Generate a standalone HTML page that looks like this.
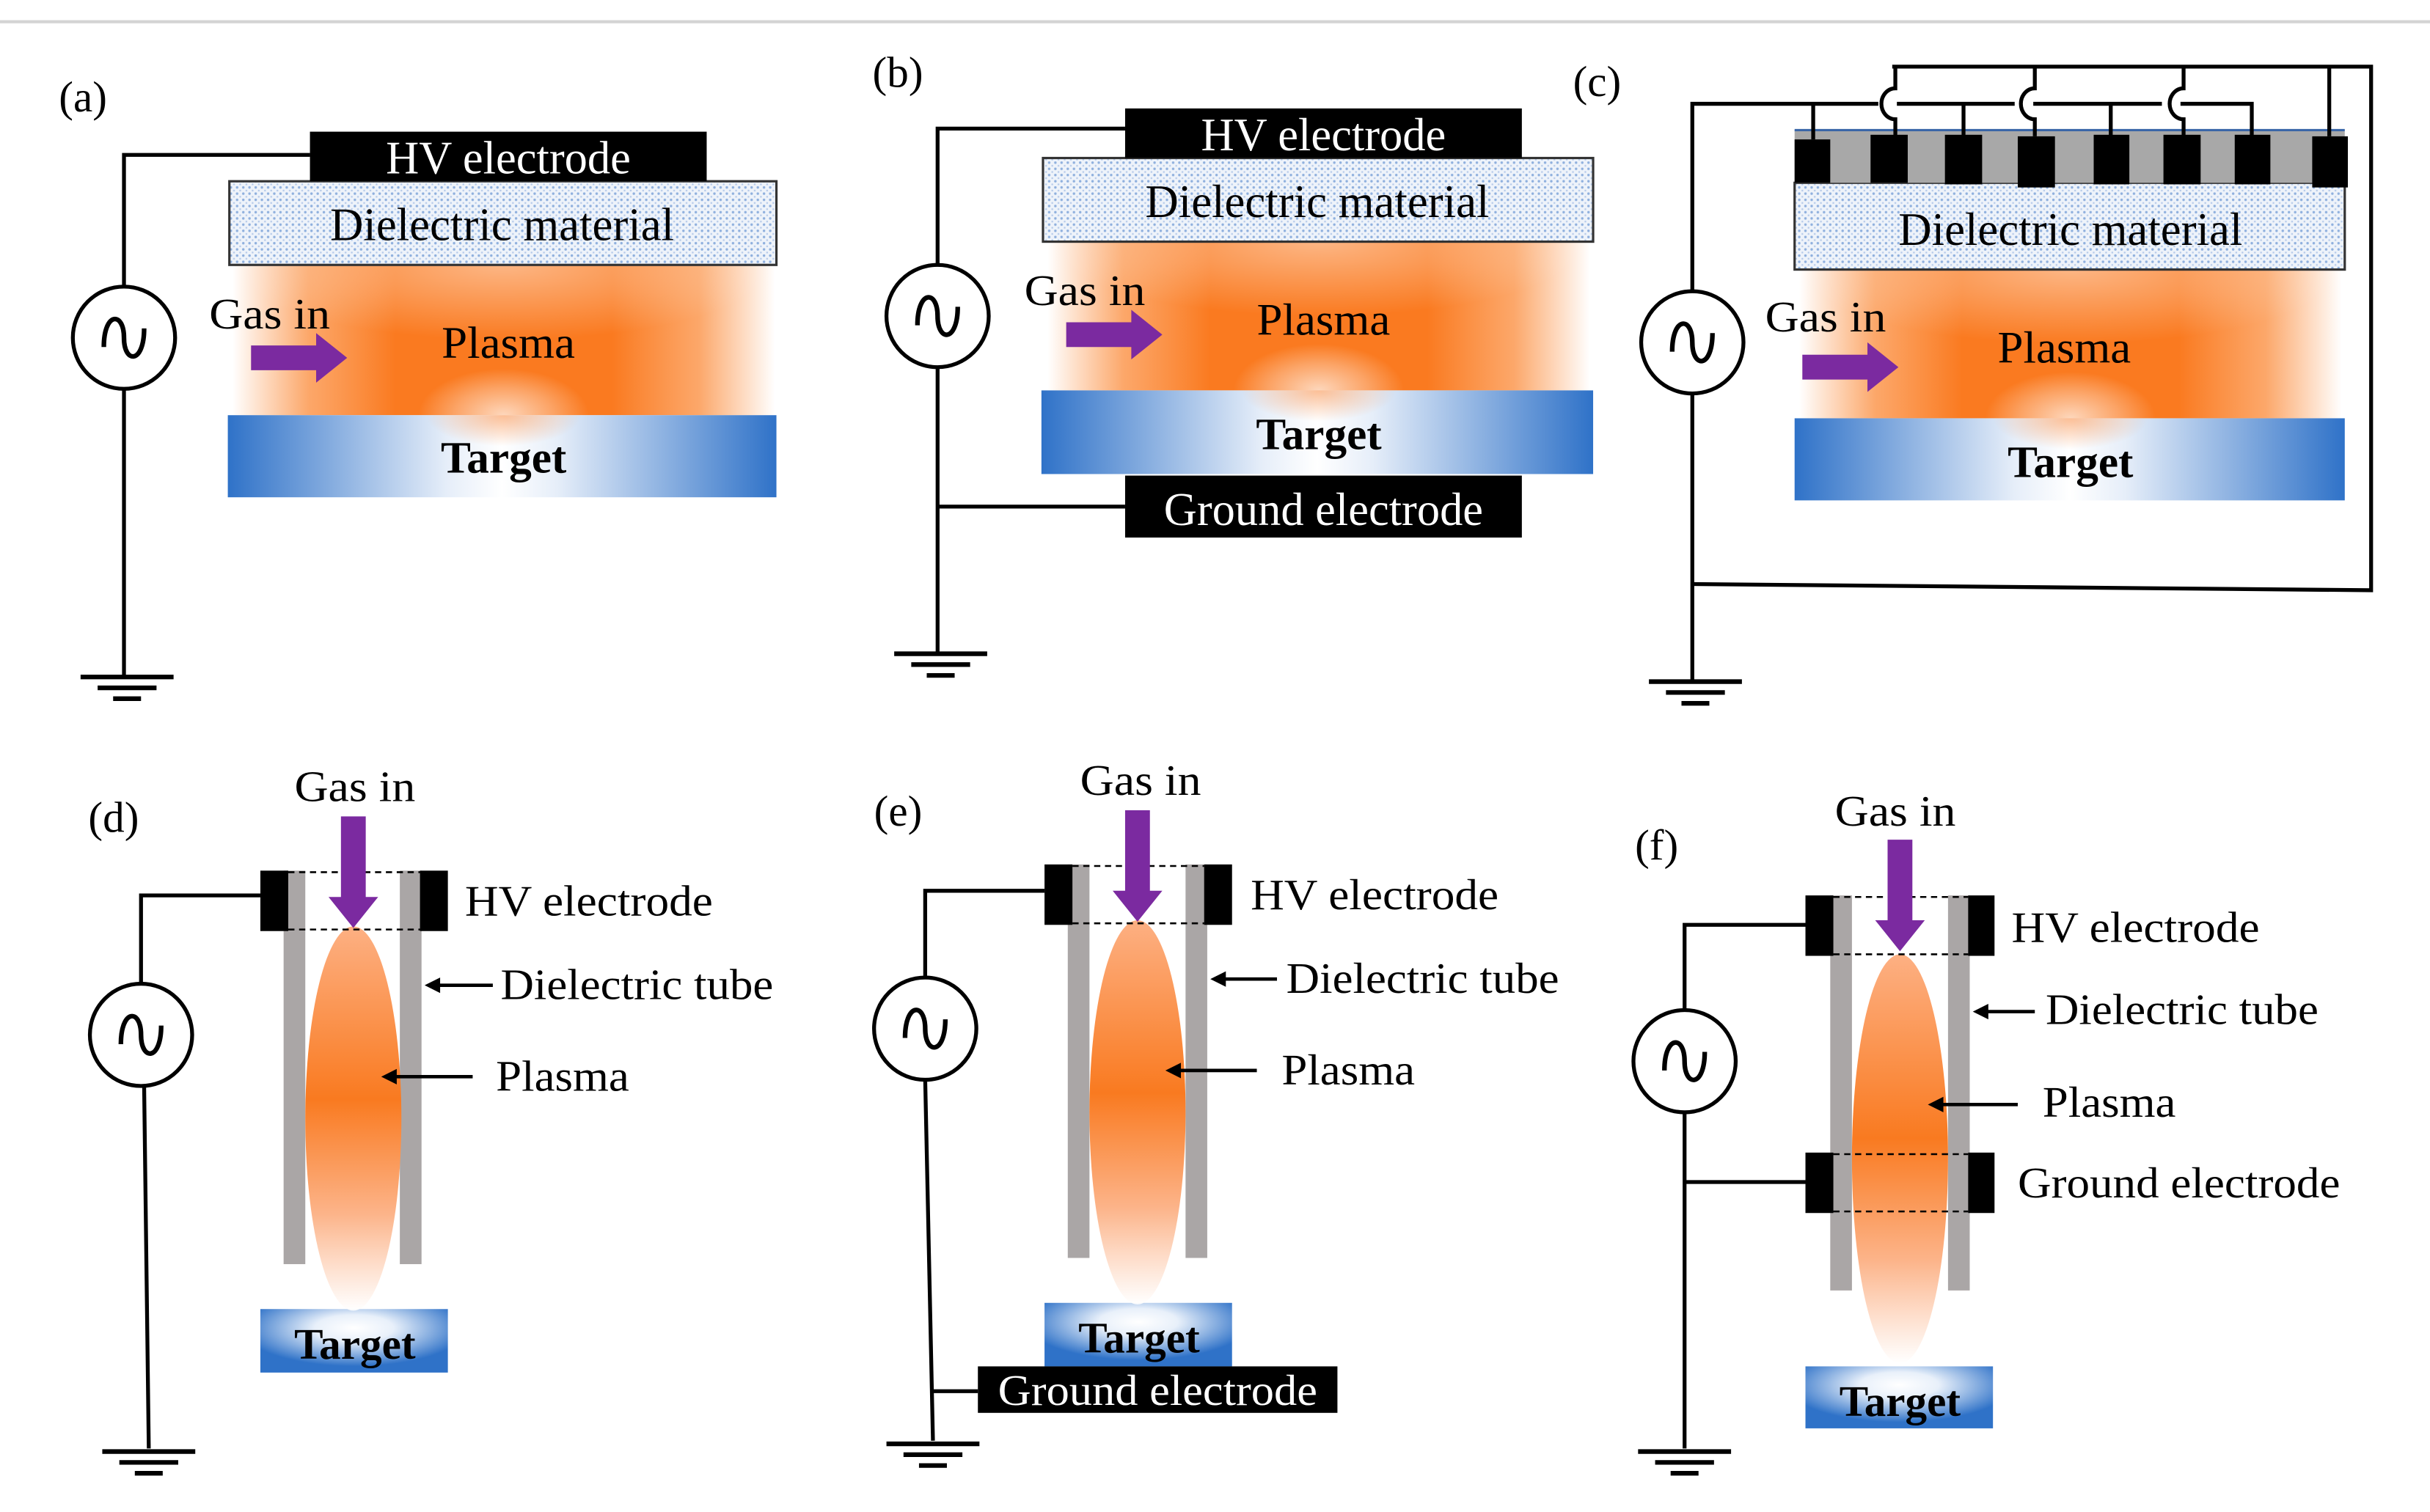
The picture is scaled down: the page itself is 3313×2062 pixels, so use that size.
<!DOCTYPE html>
<html><head><meta charset="utf-8"><style>
html,body{margin:0;padding:0;background:#fff;}
svg{display:block;}
text{font-family:"Liberation Serif",serif;}
</style></head><body>
<svg width="3313" height="2062" viewBox="0 0 1568 976" preserveAspectRatio="none" xmlns="http://www.w3.org/2000/svg">
<defs>
<pattern id="dots" width="4" height="4" patternUnits="userSpaceOnUse">
<rect width="4" height="4" fill="#eef3fa"/>
<circle cx="1" cy="1" r="0.8" fill="#8fb0de"/><circle cx="3" cy="3" r="0.6" fill="#b7cbea"/>
</pattern>
<linearGradient id="tgt" x1="0" x2="1" y1="0" y2="0">
<stop offset="0" stop-color="#2f72c8"/><stop offset="0.4" stop-color="#e6eef9"/><stop offset="0.5" stop-color="#ffffff"/><stop offset="0.6" stop-color="#e6eef9"/><stop offset="1" stop-color="#2f72c8"/>
</linearGradient>
<radialGradient id="tglow" cx="0.5" cy="0" r="0.5">
<stop offset="0" stop-color="#f98a40" stop-opacity="0.55"/><stop offset="1" stop-color="#f98a40" stop-opacity="0"/>
</radialGradient>
<radialGradient id="tgts" cx="0.5" cy="0.3" r="0.6">
<stop offset="0" stop-color="#ffffff"/><stop offset="0.35" stop-color="#e8f0fa"/><stop offset="1" stop-color="#2f72c8"/>
</radialGradient>
<linearGradient id="plh" x1="0" x2="1" y1="0" y2="0">
<stop offset="0" stop-color="#fb8a38" stop-opacity="0"/><stop offset="0.14" stop-color="#fb8a38" stop-opacity="0.75"/>
<stop offset="0.3" stop-color="#fa7a20"/><stop offset="0.7" stop-color="#fa7a20"/>
<stop offset="0.86" stop-color="#fb8a38" stop-opacity="0.75"/><stop offset="1" stop-color="#fb8a38" stop-opacity="0"/>
</linearGradient>
<radialGradient id="plw" cx="0.5" cy="1" r="0.5">
<stop offset="0" stop-color="#fff" stop-opacity="0.7"/><stop offset="0.6" stop-color="#fff" stop-opacity="0.3"/><stop offset="1" stop-color="#fff" stop-opacity="0"/>
</radialGradient>
<radialGradient id="plt" cx="0.5" cy="0" r="0.5">
<stop offset="0" stop-color="#fff" stop-opacity="0.45"/><stop offset="1" stop-color="#fff" stop-opacity="0"/>
</radialGradient>
<linearGradient id="jet" x1="0" x2="0" y1="0" y2="1">
<stop offset="0" stop-color="#fdb083"/><stop offset="0.45" stop-color="#f97a20"/><stop offset="0.75" stop-color="#fcb48a"/><stop offset="1" stop-color="#fff" stop-opacity="0.9"/>
</linearGradient>
<g id="src" fill="none" stroke="#000" stroke-width="2.5">
<circle cx="0" cy="0" r="33" fill="#fff"/>
<path d="M-13,6 C-13,-17 0,-17 0,0 C0,17 13,17 13,-6" stroke-width="3"/>
</g>
<g id="gnd" stroke="#000" stroke-width="3">
<line x1="-30" y1="0" x2="30" y2="0"/><line x1="-19" y1="7" x2="19" y2="7"/><line x1="-9" y1="14" x2="9" y2="14"/>
</g>
<g id="garr" fill="#7b2aa0"><path d="M0,-8 H42 V-16 L62,0 L42,16 V8 H0 Z"/></g>
<g id="darr" fill="#7b2aa0"><path d="M-8,0 V52 H-16 L0,72 L16,52 H8 V0 Z"/></g>
</defs>

<line x1="0" y1="14" x2="1568" y2="14" stroke="#d4d4d4" stroke-width="2"/>

<!-- (a) -->
<text x="38" y="72" font-size="28">(a)</text>
<rect x="150" y="171" width="350" height="97" fill="url(#plh)"/>
<rect x="150" y="171" width="350" height="97" fill="url(#plt)"/>
<rect x="270" y="208" width="110" height="60" fill="url(#plw)"/>
<rect x="147" y="268" width="354" height="53" fill="url(#tgt)"/>
<rect x="275" y="268" width="100" height="40" fill="url(#tglow)"/>
<text x="325" y="305" font-size="29" font-weight="bold" text-anchor="middle">Target</text>
<rect x="148" y="117" width="353" height="54" fill="url(#dots)" stroke="#333" stroke-width="1.5"/>
<text x="324" y="155" font-size="30" text-anchor="middle" textLength="222" lengthAdjust="spacingAndGlyphs">Dielectric material</text>
<rect x="200" y="85" width="256" height="32" fill="#000"/>
<text x="328" y="112" font-size="30" fill="#fff" text-anchor="middle" textLength="158" lengthAdjust="spacingAndGlyphs">HV electrode</text>
<text x="328" y="231" font-size="29" text-anchor="middle" textLength="86" lengthAdjust="spacingAndGlyphs">Plasma</text>
<text x="135" y="212" font-size="28" textLength="78" lengthAdjust="spacingAndGlyphs">Gas in</text>
<use href="#garr" x="162" y="231"/>
<polyline points="80,185 80,100 200,100" fill="none" stroke="#000" stroke-width="2.5"/>
<line x1="80" y1="251" x2="80" y2="437" stroke="#000" stroke-width="2.5"/>
<use href="#src" x="80" y="218"/>
<use href="#gnd" x="82" y="437"/>

<!-- (b) -->
<text x="563" y="56" font-size="28">(b)</text>
<rect x="676" y="156" width="350" height="96" fill="url(#plh)"/>
<rect x="676" y="156" width="350" height="96" fill="url(#plt)"/>
<rect x="796" y="192" width="110" height="60" fill="url(#plw)"/>
<rect x="672" y="252" width="356" height="54" fill="url(#tgt)"/>
<rect x="801" y="252" width="100" height="40" fill="url(#tglow)"/>
<text x="851" y="290" font-size="29" font-weight="bold" text-anchor="middle">Target</text>
<rect x="673" y="102" width="355" height="54" fill="url(#dots)" stroke="#333" stroke-width="1.5"/>
<text x="850" y="140" font-size="30" text-anchor="middle" textLength="222" lengthAdjust="spacingAndGlyphs">Dielectric material</text>
<rect x="726" y="70" width="256" height="32" fill="#000"/>
<text x="854" y="97" font-size="30" fill="#fff" text-anchor="middle" textLength="158" lengthAdjust="spacingAndGlyphs">HV electrode</text>
<rect x="726" y="307" width="256" height="40" fill="#000"/>
<text x="854" y="339" font-size="30" fill="#fff" text-anchor="middle" textLength="206" lengthAdjust="spacingAndGlyphs">Ground electrode</text>
<text x="854" y="216" font-size="29" text-anchor="middle" textLength="86" lengthAdjust="spacingAndGlyphs">Plasma</text>
<text x="661" y="197" font-size="28" textLength="78" lengthAdjust="spacingAndGlyphs">Gas in</text>
<use href="#garr" x="688" y="216"/>
<polyline points="605,171 605,83 726,83" fill="none" stroke="#000" stroke-width="2.5"/>
<line x1="605" y1="237" x2="605" y2="422" stroke="#000" stroke-width="2.5"/>
<line x1="605" y1="327" x2="726" y2="327" stroke="#000" stroke-width="2.5"/>
<use href="#src" x="605" y="204"/>
<use href="#gnd" x="607" y="422"/>

<!-- (c) -->
<text x="1015" y="62" font-size="28">(c)</text>
<rect x="1161" y="174" width="350" height="96" fill="url(#plh)"/>
<rect x="1161" y="174" width="350" height="96" fill="url(#plt)"/>
<rect x="1281" y="210" width="110" height="60" fill="url(#plw)"/>
<rect x="1158" y="270" width="355" height="53" fill="url(#tgt)"/>
<rect x="1286" y="270" width="100" height="40" fill="url(#tglow)"/>
<text x="1336" y="308" font-size="29" font-weight="bold" text-anchor="middle">Target</text>
<rect x="1158" y="118" width="355" height="56" fill="url(#dots)" stroke="#333" stroke-width="1.5"/>
<text x="1336" y="158" font-size="30" text-anchor="middle" textLength="222" lengthAdjust="spacingAndGlyphs">Dielectric material</text>
<rect x="1158" y="84" width="355" height="34" fill="#a8a8a8"/>
<line x1="1158" y1="84" x2="1513" y2="84" stroke="#3a66a8" stroke-width="1.5"/>
<g fill="#000">
<rect x="1158" y="90" width="23" height="28"/><rect x="1207" y="87" width="24" height="31"/>
<rect x="1255" y="87" width="24" height="32"/><rect x="1302" y="88" width="24" height="33"/>
<rect x="1351" y="87" width="23" height="32"/><rect x="1396" y="87" width="24" height="32"/>
<rect x="1442" y="87" width="23" height="32"/><rect x="1492" y="88" width="23" height="33"/>
</g>
<g fill="none" stroke="#000" stroke-width="2.5">
<polyline points="1092,188 1092,67 1212,67"/>
<line x1="1224" y1="67" x2="1300" y2="67"/>
<line x1="1312" y1="67" x2="1395" y2="67"/>
<polyline points="1407,67 1453,67 1453,88"/>
<line x1="1170" y1="67" x2="1170" y2="90"/>
<line x1="1267" y1="67" x2="1267" y2="88"/>
<line x1="1362" y1="67" x2="1362" y2="88"/>
<polyline points="1221,43 1530,43 1530,381 1092,377"/>
<path d="M1223,43 V57 A9,10 0 0 0 1223,77 V88"/>
<path d="M1313,43 V57 A9,10 0 0 0 1313,77 V88"/>
<path d="M1409,43 V57 A9,10 0 0 0 1409,77 V88"/>
<line x1="1503" y1="43" x2="1503" y2="88"/>
<line x1="1092" y1="254" x2="1092" y2="440"/>
</g>
<text x="1332" y="234" font-size="29" text-anchor="middle" textLength="86" lengthAdjust="spacingAndGlyphs">Plasma</text>
<text x="1139" y="214" font-size="28" textLength="78" lengthAdjust="spacingAndGlyphs">Gas in</text>
<use href="#garr" x="1163" y="237"/>
<use href="#src" x="1092" y="221"/>
<use href="#gnd" x="1094" y="440"/>

<!-- (d) -->
<text x="57" y="537" font-size="28">(d)</text>
<text x="229" y="517" font-size="28" text-anchor="middle" textLength="78" lengthAdjust="spacingAndGlyphs">Gas in</text>
<rect x="168" y="845" width="121" height="41" fill="url(#tgts)"/>
<text x="229" y="877" font-size="28" font-weight="bold" text-anchor="middle">Target</text>
<rect x="183" y="562" width="14" height="254" fill="#aaa6a6"/>
<rect x="258" y="562" width="14" height="254" fill="#aaa6a6"/>
<ellipse cx="228" cy="722" rx="31" ry="124" fill="url(#jet)"/>
<rect x="168" y="562" width="18" height="39" fill="#000"/>
<rect x="271" y="562" width="18" height="39" fill="#000"/>
<g stroke="#000" stroke-width="1.2" stroke-dasharray="4,3"><line x1="186" y1="563" x2="271" y2="563"/><line x1="186" y1="600" x2="271" y2="600"/></g>
<use href="#darr" x="228" y="527"/>
<text x="300" y="591" font-size="28" textLength="160" lengthAdjust="spacingAndGlyphs">HV electrode</text>
<text x="323" y="645" font-size="28" textLength="176" lengthAdjust="spacingAndGlyphs">Dielectric tube</text>
<text x="320" y="704" font-size="28" textLength="86" lengthAdjust="spacingAndGlyphs">Plasma</text>
<g stroke="#000" stroke-width="2.2" fill="#000">
<line x1="318" y1="636" x2="280" y2="636"/><path d="M274,636 L284,631 L284,641 Z" stroke="none"/>
<line x1="305" y1="695" x2="252" y2="695"/><path d="M246,695 L256,690 L256,700 Z" stroke="none"/>
</g>
<polyline points="91,635 91,578 168,578" fill="none" stroke="#000" stroke-width="2.5"/>
<line x1="93" y1="701" x2="96" y2="935" stroke="#000" stroke-width="2.5"/>
<use href="#src" x="91" y="668"/>
<use href="#gnd" x="96" y="937"/>

<!-- (e) -->
<text x="564" y="533" font-size="28">(e)</text>
<text x="736" y="513" font-size="28" text-anchor="middle" textLength="78" lengthAdjust="spacingAndGlyphs">Gas in</text>
<rect x="674" y="841" width="121" height="41" fill="url(#tgts)"/>
<text x="735" y="873" font-size="28" font-weight="bold" text-anchor="middle">Target</text>
<rect x="689" y="558" width="14" height="254" fill="#aaa6a6"/>
<rect x="765" y="558" width="14" height="254" fill="#aaa6a6"/>
<ellipse cx="734" cy="718" rx="31" ry="124" fill="url(#jet)"/>
<rect x="674" y="558" width="18" height="39" fill="#000"/>
<rect x="777" y="558" width="18" height="39" fill="#000"/>
<g stroke="#000" stroke-width="1.2" stroke-dasharray="4,3"><line x1="692" y1="559" x2="777" y2="559"/><line x1="692" y1="596" x2="777" y2="596"/></g>
<use href="#darr" x="734" y="523"/>
<rect x="631" y="882" width="232" height="30" fill="#000"/>
<text x="747" y="907" font-size="28" fill="#fff" text-anchor="middle" textLength="206" lengthAdjust="spacingAndGlyphs">Ground electrode</text>
<text x="807" y="587" font-size="28" textLength="160" lengthAdjust="spacingAndGlyphs">HV electrode</text>
<text x="830" y="641" font-size="28" textLength="176" lengthAdjust="spacingAndGlyphs">Dielectric tube</text>
<text x="827" y="700" font-size="28" textLength="86" lengthAdjust="spacingAndGlyphs">Plasma</text>
<g stroke="#000" stroke-width="2.2" fill="#000">
<line x1="824" y1="632" x2="787" y2="632"/><path d="M781,632 L791,627 L791,637 Z" stroke="none"/>
<line x1="811" y1="691" x2="758" y2="691"/><path d="M752,691 L762,686 L762,696 Z" stroke="none"/>
</g>
<polyline points="597,631 597,575 674,575" fill="none" stroke="#000" stroke-width="2.5"/>
<line x1="597" y1="697" x2="602" y2="930" stroke="#000" stroke-width="2.5"/>
<line x1="601" y1="898" x2="631" y2="898" stroke="#000" stroke-width="2.5"/>
<use href="#src" x="597" y="664"/>
<use href="#gnd" x="602" y="932"/>

<!-- (f) -->
<text x="1055" y="555" font-size="28">(f)</text>
<text x="1223" y="533" font-size="28" text-anchor="middle" textLength="78" lengthAdjust="spacingAndGlyphs">Gas in</text>
<rect x="1165" y="882" width="121" height="40" fill="url(#tgts)"/>
<text x="1226" y="914" font-size="28" font-weight="bold" text-anchor="middle">Target</text>
<rect x="1181" y="578" width="14" height="255" fill="#aaa6a6"/>
<rect x="1257" y="578" width="14" height="255" fill="#aaa6a6"/>
<ellipse cx="1226" cy="748" rx="31" ry="132" fill="url(#jet)"/>
<rect x="1165" y="578" width="18" height="39" fill="#000"/>
<rect x="1270" y="578" width="17" height="39" fill="#000"/>
<rect x="1165" y="744" width="18" height="39" fill="#000"/>
<rect x="1270" y="744" width="17" height="39" fill="#000"/>
<g stroke="#000" stroke-width="1.2" stroke-dasharray="4,3">
<line x1="1183" y1="579" x2="1270" y2="579"/><line x1="1183" y1="616" x2="1270" y2="616"/>
<line x1="1183" y1="745" x2="1270" y2="745"/><line x1="1183" y1="782" x2="1270" y2="782"/></g>
<use href="#darr" x="1226" y="542"/>
<text x="1298" y="608" font-size="28" textLength="160" lengthAdjust="spacingAndGlyphs">HV electrode</text>
<text x="1320" y="661" font-size="28" textLength="176" lengthAdjust="spacingAndGlyphs">Dielectric tube</text>
<text x="1318" y="721" font-size="28" textLength="86" lengthAdjust="spacingAndGlyphs">Plasma</text>
<text x="1302" y="773" font-size="28" textLength="208" lengthAdjust="spacingAndGlyphs">Ground electrode</text>
<g stroke="#000" stroke-width="2.2" fill="#000">
<line x1="1313" y1="653" x2="1279" y2="653"/><path d="M1273,653 L1283,648 L1283,658 Z" stroke="none"/>
<line x1="1302" y1="713" x2="1250" y2="713"/><path d="M1244,713 L1254,708 L1254,718 Z" stroke="none"/>
</g>
<polyline points="1087,652 1087,597 1165,597" fill="none" stroke="#000" stroke-width="2.5"/>
<line x1="1087" y1="718" x2="1087" y2="935" stroke="#000" stroke-width="2.5"/>
<line x1="1087" y1="763" x2="1165" y2="763" stroke="#000" stroke-width="2.5"/>
<use href="#src" x="1087" y="685"/>
<use href="#gnd" x="1087" y="937"/>
</svg>
</body></html>
